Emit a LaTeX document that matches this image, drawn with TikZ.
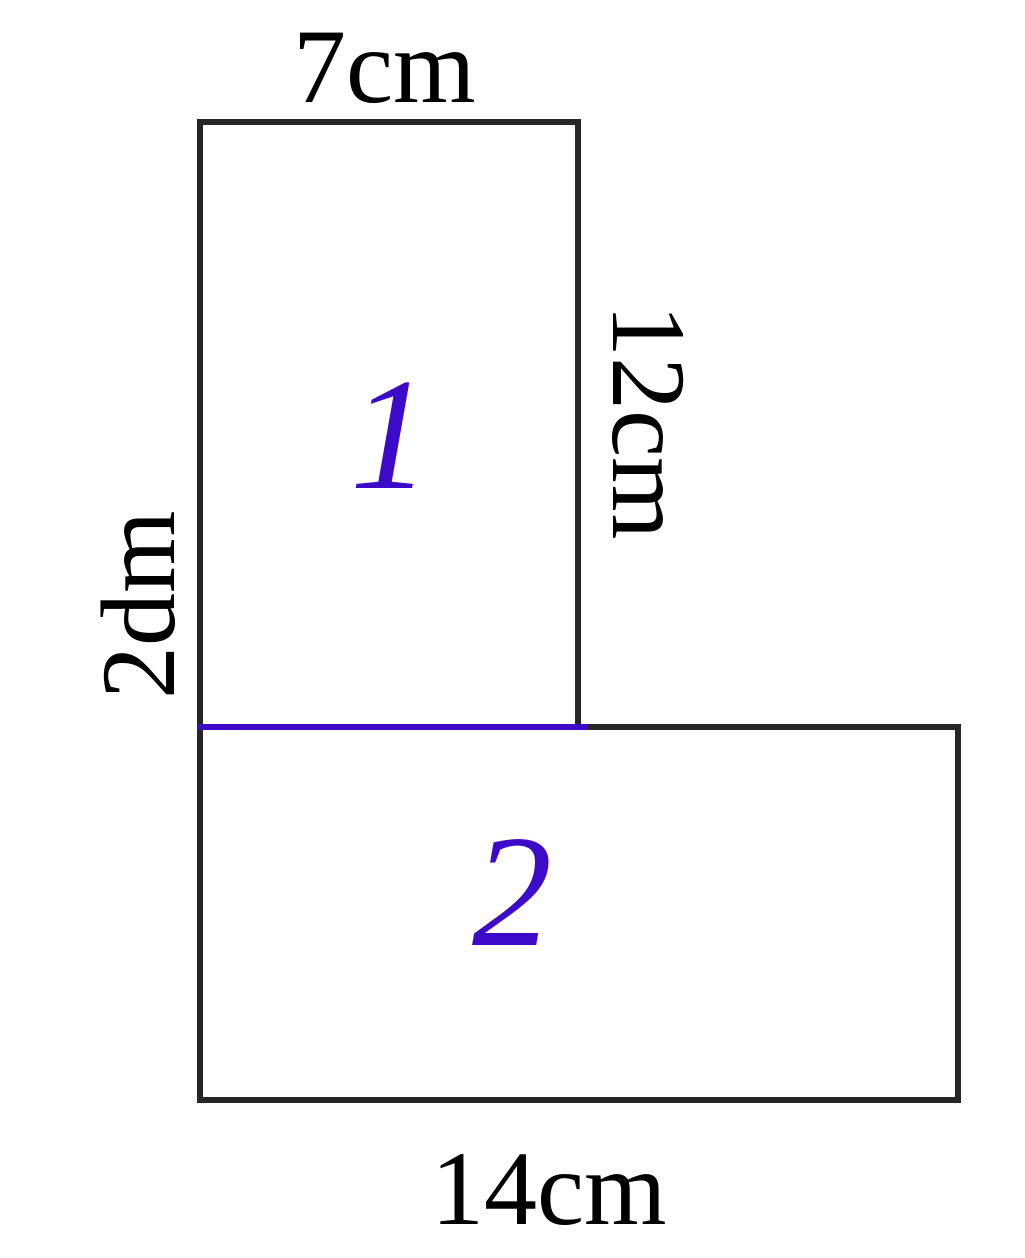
\documentclass[tikz,border=0pt]{standalone}
\usepackage{fontspec}
\setmainfont{Liberation Serif}
\definecolor{penblue}{RGB}{60,10,200}
\begin{document}
\begin{tikzpicture}[x=0.5pt,y=-0.5pt,
  edge/.style={line width=2.6pt,black!85},
  lbl/.style={font=\fontsize{53}{60}\selectfont,inner sep=0pt},
  hand/.style={font=\fontsize{80}{90}\selectfont\itshape,text=penblue,inner sep=0pt}]
\useasboundingbox (0,0) rectangle (1024,1258);
\coordinate (A) at (200,122);
\coordinate (B) at (578,122);
\coordinate (C) at (578,727);
\coordinate (D) at (958,727);
\coordinate (E) at (958,1100);
\coordinate (F) at (200,1100);
\coordinate (G) at (197,727);
\coordinate (H) at (588,727);
\draw[edge,line join=miter] (A) -- (B) -- (C) -- (D) -- (E) -- (F) -- cycle;
\draw[line width=2.6pt,penblue] (G) -- (H);
\node[lbl] (top) at (385,68) {7cm};
\node[lbl] (bot) at (549,1190) {14cm};
\node[lbl,rotate=-90] (right) at (648,422) {12cm};
\node[lbl,rotate=90] (left) at (138,605) {2dm};
\node[hand] (one) at (390,436) {1};
\node[hand] (two) at (512,893) {2};
\end{tikzpicture}
\end{document}
